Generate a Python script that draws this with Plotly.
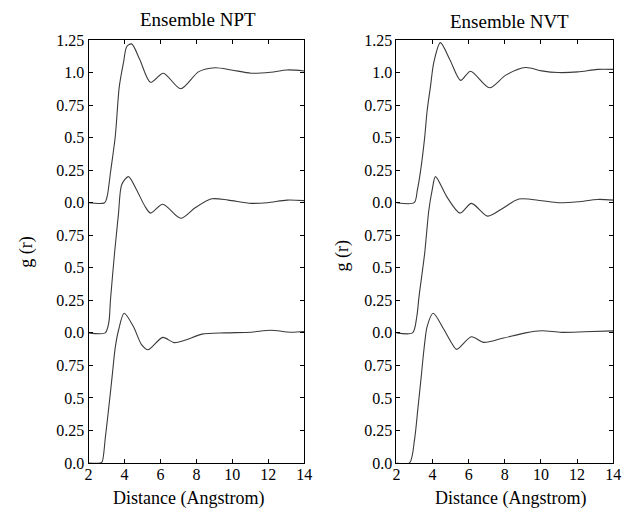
import plotly.graph_objects as go

# ---------------- data ----------------
# Ensemble NPT
npt_top_r = [2.0, 2.9, 3.04, 3.22, 3.49, 3.71, 3.95, 4.13, 4.4, 4.85, 5.45, 6.16, 7.13, 8.13, 9.04, 9.95, 11.04, 12.13, 13.04, 14.0]
npt_top_g = [0.0, 0.0, 0.05, 0.23, 0.51, 0.89, 1.08, 1.20, 1.22, 1.10, 0.925, 0.995, 0.875, 1.007, 1.037, 1.02, 0.995, 1.002, 1.02, 1.012]

npt_mid_r = [2.0, 2.93, 3.13, 3.22, 3.44, 3.54, 3.67, 3.85, 4.22, 4.67, 5.13, 5.45, 6.13, 7.13, 7.95, 8.86, 9.77, 11.04, 11.95, 13.04, 14.0]
npt_mid_g = [0.0, 0.0, 0.08, 0.25, 0.60, 0.74, 0.92, 1.14, 1.20, 1.10, 0.975, 0.92, 0.988, 0.88, 0.963, 1.03, 1.02, 0.995, 1.0, 1.02, 1.016]

npt_bot_r = [2.0, 2.65, 2.76, 2.94, 3.13, 3.31, 3.49, 3.67, 3.98, 4.49, 4.95, 5.31, 6.13, 6.76, 7.4, 8.31, 9.58, 11.04, 12.13, 13.22, 14.0]
npt_bot_g = [0.0, 0.0, 0.01, 0.20, 0.43, 0.66, 0.89, 1.02, 1.15, 1.05, 0.91, 0.87, 0.965, 0.925, 0.945, 0.99, 1.0, 1.005, 1.02, 1.005, 1.01]

# Ensemble NVT
nvt_top_r = [2.0, 2.98, 3.16, 3.34, 3.56, 3.70, 3.88, 4.07, 4.43, 4.97, 5.55, 6.10, 7.15, 8.05, 9.14, 10.04, 10.95, 12.04, 13.13, 14.0]
nvt_top_g = [0.0, 0.0, 0.10, 0.25, 0.50, 0.71, 0.89, 1.08, 1.23, 1.095, 0.94, 1.01, 0.883, 0.98, 1.039, 1.013, 1.0, 1.005, 1.024, 1.024]

nvt_mid_r = [2.0, 2.89, 3.12, 3.25, 3.56, 3.65, 3.79, 3.98, 4.16, 4.79, 5.52, 6.15, 7.05, 7.87, 8.78, 10.04, 10.95, 12.04, 13.13, 14.0]
nvt_mid_g = [0.0, 0.0, 0.12, 0.28, 0.61, 0.74, 0.94, 1.10, 1.20, 1.045, 0.92, 0.995, 0.897, 0.956, 1.028, 1.015, 1.0, 1.007, 1.025, 1.02]

nvt_bot_r = [2.0, 2.72, 3.0, 3.18, 3.36, 3.52, 3.70, 4.03, 4.61, 5.06, 5.33, 6.15, 6.82, 7.87, 9.14, 10.04, 11.13, 12.4, 14.0]
nvt_bot_g = [0.0, 0.0, 0.18, 0.41, 0.65, 0.87, 1.05, 1.15, 1.03, 0.92, 0.873, 0.97, 0.927, 0.958, 1.0, 1.016, 1.004, 1.008, 1.015]

# vertical offsets of the stacked curves
offsets = {"bot": 0.0, "mid": 1.0, "top": 2.0}

# y tick positions / labels (stacked axes)
y_tickvals = [0.0, 0.25, 0.5, 0.75, 1.0, 1.25, 1.5, 1.75, 2.0, 2.25, 2.5, 2.75, 3.0, 3.25]
y_ticktext = ["0.0", "0.25", "0.5", "0.75", "0.0", "0.25", "0.5", "0.75", "0.0", "0.25", "0.5", "0.75", "1.0", "1.25"]
x_tickvals = [2, 4, 6, 8, 10, 12, 14]
x_ticktext = ["2", "4", "6", "8", "10", "12", "14"]

panel_titles = ["Ensemble NPT", "Ensemble NVT"]
x_title = "Distance (Angstrom)"
y_title = "g (r)"

# ---------------- figure ----------------
# the page body has an 8px margin, so the figure starts 8px in from the window corner
OFF = 8
W, H = 633 - OFF, 510 - OFF
PT, PB = 40 - OFF, 463 - OFF          # plot area top / bottom in figure px
FONT = "Liberation Serif, Times New Roman, serif"
line_color = "#3a3a3a"

def px_x(xp):
    return (xp - OFF) / W

def px_y(yp):
    return (PB - (yp - OFF)) / (PB - PT)

fig = go.Figure()

panels = [
    ("x", "y", [(npt_bot_r, npt_bot_g, "bot"), (npt_mid_r, npt_mid_g, "mid"), (npt_top_r, npt_top_g, "top")]),
    ("x2", "y2", [(nvt_bot_r, nvt_bot_g, "bot"), (nvt_mid_r, nvt_mid_g, "mid"), (nvt_top_r, nvt_top_g, "top")]),
]
for xa, ya, curves in panels:
    for r, g, key in curves:
        fig.add_trace(go.Scatter(
            x=r, y=[v + offsets[key] for v in g], xaxis=xa, yaxis=ya,
            mode="lines", line=dict(color=line_color, width=1.1, shape="spline", smoothing=0.8),
            showlegend=False, hoverinfo="skip"))

left_dom = [px_x(86), px_x(306)]
right_dom = [px_x(400), px_x(621)]

axis_common = dict(showgrid=False, zeroline=False, showline=True, linecolor="black", linewidth=1,
                   mirror="ticks", ticks="inside", ticklen=4, tickcolor="black",
                   tickfont=dict(family=FONT, size=16, color="black"))

xcommon = dict(axis_common, range=[2, 14], tickvals=x_tickvals, ticktext=x_ticktext, ticklabelstandoff=-3)
ycommon = dict(axis_common, range=[0, 3.25], tickvals=y_tickvals, ticktext=y_ticktext)

fig.update_layout(
    width=W, height=H,
    margin=dict(l=0, r=0, t=PT, b=H - PB, pad=0),
    paper_bgcolor="white", plot_bgcolor="white",
    font=dict(family=FONT, color="black"),
    xaxis=dict(xcommon, domain=left_dom, anchor="y"),
    yaxis=dict(ycommon, domain=[0, 1], anchor="x"),
    xaxis2=dict(xcommon, domain=right_dom, anchor="y2"),
    yaxis2=dict(ycommon, domain=[0, 1], anchor="x2"),
)

def note(text, xp, yp, size, angle=0):
    return dict(text=text, x=px_x(xp), y=px_y(yp), xref="paper", yref="paper", textangle=angle,
                showarrow=False, font=dict(family=FONT, size=size, color="black"),
                xanchor="center", yanchor="middle", borderpad=0)

ann = [
    note(panel_titles[0], 198, 20, 19),
    note(panel_titles[1], 515, 21, 19),
    note(x_title, 188, 498, 18),
    note(x_title, 516, 498, 18),
    note(y_title, 22, 252, 18, -90),
    note(y_title, 344, 256, 18, -90),
]
fig.update_layout(annotations=ann)

fig.write_html("out.html")
